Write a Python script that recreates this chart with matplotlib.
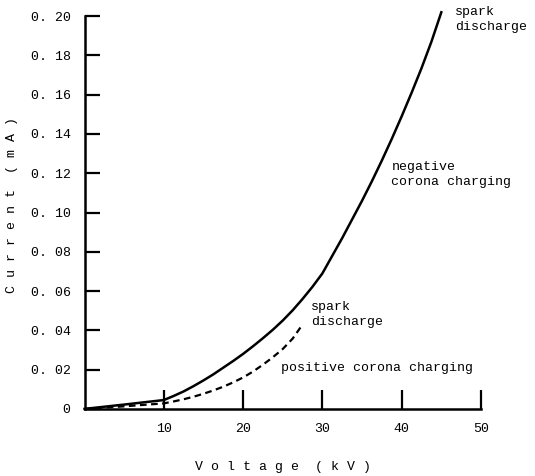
import matplotlib.pyplot as plt

# values
volt_neg = [0, 5, 10, 11.25, 12.5, 13.75, 15, 16.25, 17.5, 18.75, 20, 21.25, 22.5, 23.75,
            25, 26.25, 27.5, 28.75, 30, 31.25, 32.5, 33.75, 35, 36.25, 37.5, 38.75,
            40, 41.25, 42.5, 43.75, 45]
curr_neg = [0, 0.0022, 0.0045, 0.0066, 0.0089, 0.0116, 0.0145, 0.0176, 0.0210, 0.0244,
            0.0280, 0.0319, 0.0360, 0.0403, 0.0450, 0.0502, 0.0560, 0.0622, 0.0690,
            0.0780, 0.0870, 0.0965, 0.1060, 0.1160, 0.1265, 0.1375, 0.1490, 0.1610,
            0.1735, 0.1870, 0.2020]
volt_pos = [0, 5, 10, 11.25, 12.5, 13.75, 15, 16.25, 17.5, 18.75, 20, 21.25, 22.5, 23.75,
            25, 26.25, 27.5]
curr_pos = [0, 0.0013, 0.0028, 0.0038, 0.0049, 0.0062, 0.0077, 0.0094, 0.0113, 0.0135,
            0.0160, 0.0190, 0.0225, 0.0263, 0.0305, 0.0358, 0.0430]

x_ticks = [10, 20, 30, 40, 50]
y_ticks = [0, 0.02, 0.04, 0.06, 0.08, 0.10, 0.12, 0.14, 0.16, 0.18, 0.20]
y_labels = ['0'] + ['0. %02d' % round(v * 100) for v in y_ticks[1:]]

plt.rcParams['font.family'] = ['Liberation Mono', 'DejaVu Sans Mono']

fig = plt.figure(figsize=(5.35, 4.76), dpi=100)
ax = fig.add_axes([0.158, 0.141, 0.741, 0.825])

ax.plot(volt_neg, curr_neg, color='black', lw=1.8, clip_on=False)
ax.plot(volt_pos, curr_pos, color='black', lw=1.6, ls=(0, (3, 2)))

ax.set_xlim(0, 50)
ax.set_ylim(0, 0.2)
ax.set_xticks(x_ticks)
ax.set_xticklabels([str(v) for v in x_ticks], fontsize=9.5)
ax.set_yticks(y_ticks)
ax.set_yticklabels(y_labels, fontsize=9.5)

for side in ['top', 'right']:
    ax.spines[side].set_visible(False)
for side in ['left', 'bottom']:
    ax.spines[side].set_linewidth(1.8)

ax.tick_params(axis='x', direction='in', length=14, width=1.6, pad=10)
ax.tick_params(axis='y', direction='in', length=11, width=1.6, pad=10)

ax.set_xlabel('V o l t a g e  ( k V )', fontsize=9.5)
ax.set_ylabel('C u r r e n t  ( m A )', fontsize=9.5)
ax.xaxis.set_label_coords(0.5, -0.132)
ax.yaxis.set_label_coords(-0.168, 0.52)

# annotations
ax.text(46.7, 0.205, 'spark\ndischarge', fontsize=9.5, va='top', ha='left',
        linespacing=1.3, clip_on=False)
ax.text(38.7, 0.126, 'negative\ncorona charging', fontsize=9.5, va='top', ha='left',
        linespacing=1.3)
ax.text(28.6, 0.055, 'spark\ndischarge', fontsize=9.5, va='top', ha='left',
        linespacing=1.3)
ax.text(24.8, 0.021, 'positive corona charging', fontsize=9.5, va='center', ha='left')

fig.savefig('out.png', dpi=100)
